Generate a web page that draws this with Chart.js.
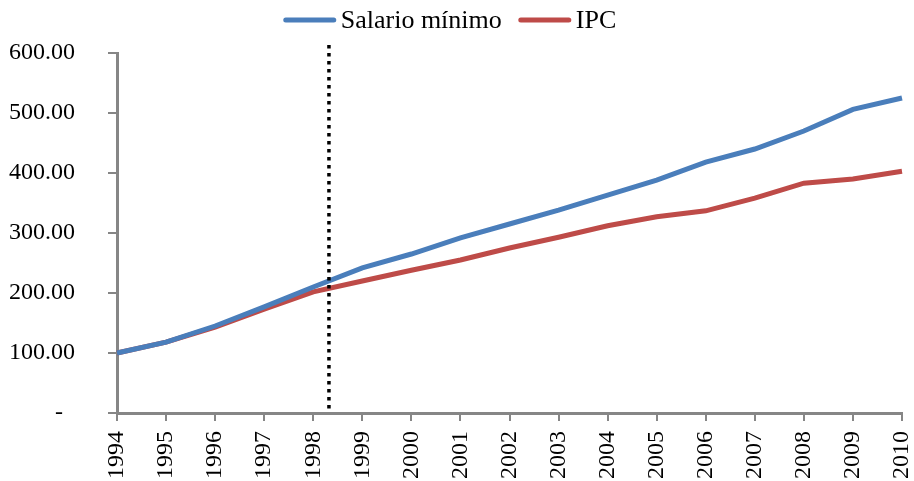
<!DOCTYPE html>
<html>
<head>
<meta charset="utf-8">
<script src="https://cdn.jsdelivr.net/npm/chart.js@4"></script>
<style>
  html, body { margin: 0; padding: 0; background: #fff; }
  #wrap { width: 914px; height: 481px; position: relative; }
</style>
</head>
<body>
<div id="wrap"><canvas id="salario-chart"></canvas></div>
<script>
// datos
const years = ["1994","1995","1996","1997","1998","1999","2000","2001","2002","2003","2004","2005","2006","2007","2008","2009","2010"];
const salarioMinimo = [100,118,145,177,210,242,265,292,315,338,363,388,418,440,470,506,525];
const ipc = [100,118,143,173,202,220,238,255,275,293,312,327,337,358,383,390,403];
const yTicks = [0,100,200,300,400,500,600];
const markerPos = 4.32; // posicion de la linea punteada (entre 1998 y 1999)

const serif = "'Liberation Serif', 'Times New Roman', serif";

// linea vertical punteada
const dottedLine = {
    id: 'dottedLine',
    afterDatasetsDraw(chart){
        const ctx = chart.ctx;
        const x = chart.scales.x.getPixelForValue(markerPos);
        const area = chart.chartArea;
        ctx.save();
        ctx.beginPath();
        ctx.setLineDash([3.5, 4.5]);
        ctx.lineWidth = 3.5;
        ctx.strokeStyle = '#000';
        ctx.moveTo(x, area.top - 8);
        ctx.lineTo(x, area.bottom);
        ctx.stroke();
        ctx.restore();
    }
};

// leyenda arriba, como en Excel
const topLegend = {
    id: 'topLegend',
    afterDraw(chart){
        const ctx = chart.ctx;
        const sets = chart.data.datasets;
        const lineW = 52, gap = 5, itemGap = 17, y = 20;
        ctx.save();
        ctx.font = "26px " + serif;
        let total = 0;
        sets.forEach((ds, i) => {
            total += lineW + gap + ctx.measureText(ds.label).width;
            if(i < sets.length - 1) total += itemGap;
        });
        let x = 450 - total / 2;
        sets.forEach(ds => {
            ctx.beginPath();
            ctx.lineCap = 'round';
            ctx.lineWidth = 5;
            ctx.strokeStyle = ds.borderColor;
            ctx.moveTo(x + 2, y);
            ctx.lineTo(x + lineW - 2, y);
            ctx.stroke();
            x += lineW + gap;
            ctx.fillStyle = '#000';
            ctx.textBaseline = 'middle';
            ctx.textAlign = 'left';
            ctx.fillText(ds.label, x, y + 1);
            x += ctx.measureText(ds.label).width + itemGap;
        });
        ctx.restore();
    }
};

window.onload = function(){

    let chart = new Chart(
        document.getElementById('salario-chart'),{
            type: 'line',
            data: {
                labels: years,
                datasets: [
                    {
                        label: "Salario mínimo",
                        data: salarioMinimo,
                        borderColor: "#4a7ebb",
                        backgroundColor: "#4a7ebb",
                        borderWidth: 5,
                        pointRadius: 0,
                        tension: 0,
                    },
                    {
                        label: "IPC",
                        data: ipc,
                        borderColor: "#be4b48",
                        backgroundColor: "#be4b48",
                        borderWidth: 5,
                        pointRadius: 0,
                        tension: 0,
                    }
                ]
            },
            options: {
                maintainAspectRatio: false,
                responsive: true,
                animation: false,
                layout: {
                    padding: {left: 0, right: 12, top: 53, bottom: 0}
                },
                plugins: {
                    legend: {display: false},
                    tooltip: {enabled: false}
                },
                scales: {
                    x: {
                        offset: false,
                        afterFit: function(axis){
                            axis.height = 68;
                            axis.paddingLeft = 0;
                            axis.paddingRight = 0;
                        },
                        grid: {
                            drawOnChartArea: false,
                            color: '#868686',
                            lineWidth: 2,
                            tickLength: 8
                        },
                        border: {color: '#868686', width: 3},
                        ticks: {
                            color: '#000',
                            maxRotation: 90,
                            minRotation: 90,
                            autoSkip: false,
                            padding: 10,
                            font: {family: serif, size: 24}
                        }
                    },
                    y: {
                        min: 0,
                        max: 600,
                        afterBuildTicks: function(axis){
                            axis.ticks = yTicks.map(v => ({value: v}));
                        },
                        afterFit: function(axis){
                            axis.width = 117;
                            axis.paddingTop = 0;
                            axis.paddingBottom = 0;
                        },
                        grid: {
                            drawOnChartArea: false,
                            color: '#868686',
                            lineWidth: 2,
                            tickLength: 9
                        },
                        border: {color: '#868686', width: 3},
                        ticks: {
                            color: '#000',
                            padding: 33,
                            font: {family: serif, size: 24},
                            callback: function(value){
                                return value === 0 ? '-  ' : value.toFixed(2);
                            }
                        }
                    }
                }
            },
            plugins: [dottedLine, topLegend]
        }
    );
}
</script>
</body>
</html>
